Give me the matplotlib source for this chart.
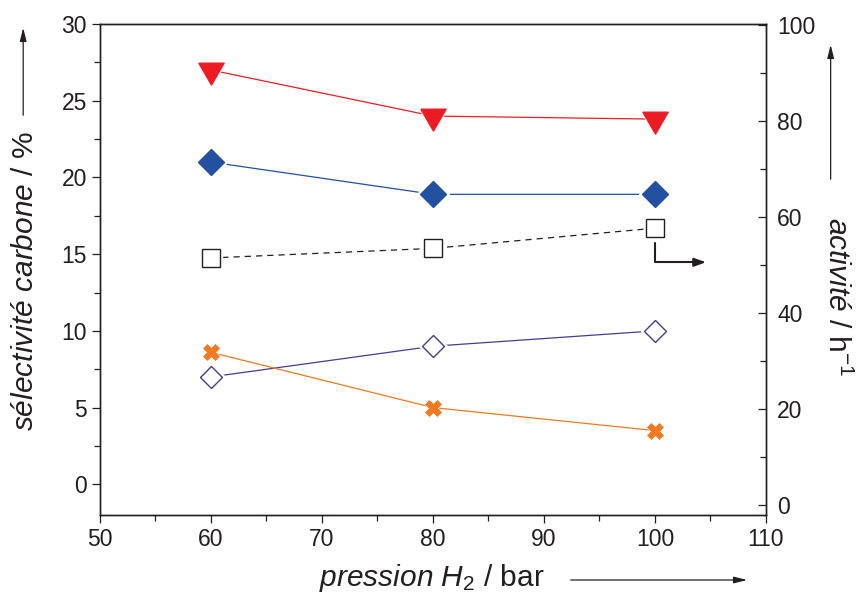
import matplotlib
matplotlib.use("Agg")
from matplotlib import pyplot as plt
from matplotlib.ticker import MultipleLocator

plt.rcParams['font.family'] = ['Liberation Sans', 'DejaVu Sans']
plt.rcParams['mathtext.fontset'] = 'custom'
plt.rcParams['mathtext.rm'] = 'Liberation Sans'
plt.rcParams['mathtext.it'] = 'Liberation Sans:italic'

# donnees
pression = [60, 80, 100]
sel_rouge = [27.0, 24.0, 23.8]      # triangles rouges
sel_bleu = [21.0, 18.9, 18.9]       # losanges bleus
sel_violet = [7.0, 9.0, 10.0]       # losanges ouverts
sel_orange = [8.6, 5.0, 3.5]        # croix oranges
activite = [51.5, 53.5, 57.7]       # carres ouverts (axe droit)

ink = '#231f20'
tri = [(-1, 0.577), (1, 0.577), (0, -1.155), (-1, 0.577)]

fig = plt.figure(figsize=(8.59, 5.94), dpi=100)
ax = fig.add_axes([0.1164, 0.133, 0.7753, 0.8266])
ax2 = ax.twinx()


def serie(axe, x, y, color, marker, ms, fc, ls='-', mew=1.0):
    axe.plot(x, y, color=color, lw=0.9, ls=ls, zorder=1)
    axe.plot(x, y, ls='none', marker=marker, ms=ms + 3, mfc='white',
             mec='white', mew=mew, zorder=2)
    axe.plot(x, y, ls='none', marker=marker, ms=ms, mfc=fc, mec=color,
             mew=mew, zorder=3)


serie(ax, pression, sel_rouge, '#ed1c24', tri, 21, '#ed1c24')
serie(ax, pression, sel_bleu, '#2350a0', 'D', 13.5, '#2350a0')
serie(ax, pression, sel_violet, '#4b3a92', 'D', 11, 'white')
serie(ax, pression, sel_orange, '#f47920', 'X', 11, '#f47920', mew=0.5)
serie(ax2, pression, activite, ink, 's', 13, 'white', ls=(0, (5, 4)))

# fleche vers l'axe de droite
ax2.annotate('', xy=(104.6, activite[-1] - 7.1),
             xytext=(pression[-1], activite[-1] - 3.0),
             arrowprops=dict(arrowstyle='-|>,head_length=0.7,head_width=0.25',
                             color=ink, lw=1.5,
                             connectionstyle='angle,angleA=90,angleB=0,rad=0',
                             shrinkA=0, shrinkB=0))

ax.set_xlim(50, 110)
ax.set_ylim(-2, 30)
ax2.set_ylim(-2, 100.2)

ax.xaxis.set_major_locator(MultipleLocator(10))
ax.xaxis.set_minor_locator(MultipleLocator(5))
ax.yaxis.set_major_locator(MultipleLocator(5))
ax.yaxis.set_minor_locator(MultipleLocator(2.5))
ax2.yaxis.set_major_locator(MultipleLocator(20))
ax2.yaxis.set_minor_locator(MultipleLocator(10))

ax.tick_params(which='both', direction='out', colors=ink, labelsize=16.5,
               width=0.9, top=False, right=False)
ax.tick_params(which='major', length=6)
ax.tick_params(which='minor', length=4)
ax2.tick_params(which='both', direction='in', colors=ink, labelsize=16.5,
                width=0.9, pad=8)
ax2.tick_params(which='major', length=6)
ax2.tick_params(which='minor', length=4)

for a in (ax, ax2):
    for s in a.spines.values():
        s.set_color(ink)
        s.set_linewidth(1.0)

fig.text(0.029, 0.527, r'$\mathit{sélectivité\ carbone}$ / %', rotation=90,
         ha='center', va='center', fontsize=21.5, color=ink)
fig.text(0.974, 0.5, r'$\mathit{activité}$ / h$^{-1}$', rotation=270,
         ha='center', va='center', fontsize=21.5, color=ink)
fig.text(0.503, 0.027, r'$\mathit{pression\ H_2}$ / bar',
         ha='center', va='center', fontsize=21.5, color=ink)

arrow = dict(arrowstyle='-|>,head_length=0.8,head_width=0.2', color=ink, lw=0.9)
fig.add_artist(matplotlib.patches.FancyArrowPatch(
    (0.027, 1 - 118 / 594), (0.027, 1 - 25 / 594),
    transform=fig.transFigure, mutation_scale=10, **arrow))
fig.add_artist(matplotlib.patches.FancyArrowPatch(
    (0.967, 1 - 182 / 594), (0.967, 1 - 42 / 594),
    transform=fig.transFigure, mutation_scale=10, **arrow))
fig.add_artist(matplotlib.patches.FancyArrowPatch(
    (568 / 859, 1 - 580 / 594), (750 / 859, 1 - 580 / 594),
    transform=fig.transFigure, mutation_scale=10, **arrow))

fig.savefig('out.png', dpi=100)
